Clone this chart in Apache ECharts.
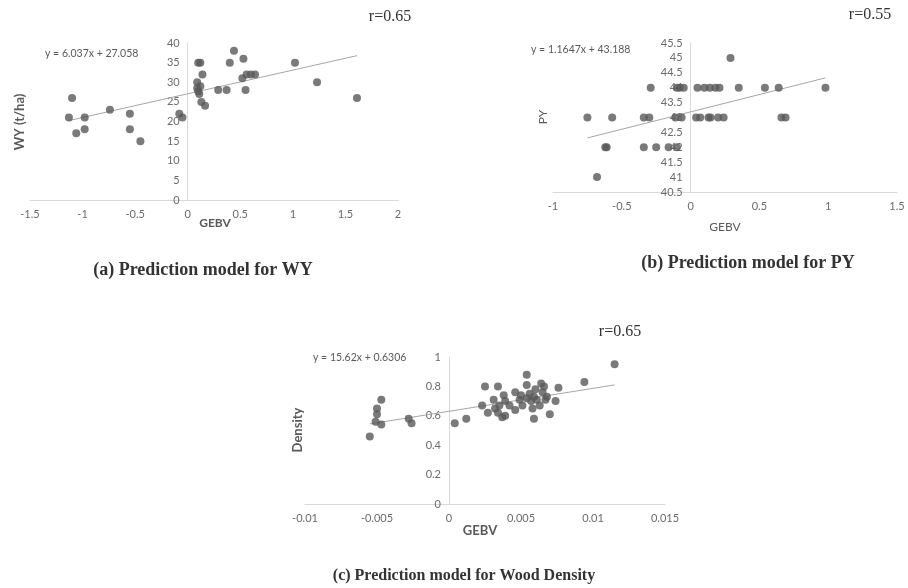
<!DOCTYPE html>
<html><head><meta charset="utf-8">
<script src="https://cdn.jsdelivr.net/npm/echarts@6/dist/echarts.min.js"></script>
<style>html,body{margin:0;padding:0;background:#fff}#c{width:908px;height:588px}</style>
</head><body><div id="c"></div>
<script>
// Panel (a) WY
const wyX = [-1.10,-1.13,-1.06,-0.98,-0.98,-0.74,-0.55,-0.55,-0.45,-0.08,-0.05,0.10,0.12,0.09,0.09,0.10,0.14,0.12,0.11,0.13,0.165,0.29,0.37,0.40,0.44,0.53,0.52,0.55,0.56,0.60,0.64,1.02,1.23,1.61];
const wyY = [26,21,17,21,18,23,22,18,15,22,21,35,35,30,28.5,27.7,32,29,27,25,24,28,28,35,38,36,31,28,32,32,32,35,30,26];
const wyFit = [6.037, 27.058];
// Panel (b) PY
const pyX = [0.29,-0.29,-0.10,-0.08,-0.05,0.05,0.10,0.14,0.18,0.21,0.35,0.54,0.64,0.98,-0.75,-0.57,-0.34,-0.30,-0.11,-0.065,0.04,0.07,0.13,0.145,0.20,0.24,0.66,0.69,-0.62,-0.61,-0.34,-0.25,-0.16,-0.10,-0.68];
const pyY = [45,44,44,44,44,44,44,44,44,44,44,44,44,44,43,43,43,43,43,43,43,43,43,43,43,43,43,43,42,42,42,42,42,42,41];
const pyFit = [1.1647, 43.188];
// Panel (c) Density
const dX = [-0.0055,-0.0051,-0.0050,-0.0050,-0.0047,-0.0047,-0.0028,-0.0026,0.0004,0.0012,0.0023,0.0025,0.0034,0.0027,0.0031,0.0032,0.0034,0.0035,0.0037,0.0038,0.0039,0.0039,0.0042,0.0046,0.0046,0.0049,0.0050,0.0051,0.0054,0.0054,0.0054,0.0056,0.0057,0.0058,0.0059,0.0059,0.0060,0.0061,0.0063,0.0064,0.0065,0.0066,0.0067,0.0068,0.0070,0.0074,0.0076,0.0094,0.0115];
const dY = [0.46,0.56,0.61,0.65,0.71,0.54,0.58,0.55,0.55,0.58,0.67,0.80,0.80,0.62,0.71,0.65,0.62,0.67,0.59,0.74,0.60,0.70,0.67,0.76,0.64,0.71,0.74,0.67,0.88,0.81,0.72,0.75,0.70,0.65,0.58,0.73,0.78,0.71,0.67,0.82,0.76,0.80,0.71,0.73,0.61,0.70,0.79,0.83,0.95];
const dFit = [15.62, 0.6306];

const eqTexts = ['y = 6.037x + 27.058', 'y = 1.1647x + 43.188', 'y = 15.62x + 0.6306'];
const rTexts = ['r=0.65', 'r=0.55', 'r=0.65'];
const captions = ['(a) Prediction model for WY', '(b) Prediction model for PY', '(c) Prediction model for Wood Density'];
const yTitles = ['WY (t/ha)', 'PY', 'Density'];
const xTitle = 'GEBV';

function pairs(xs, ys){ return xs.map((x,i)=>[x, ys[i]]); }
function fitLine(xs, fit){
  const lo = Math.min(...xs), hi = Math.max(...xs);
  return [[lo, fit[0]*lo+fit[1]], [hi, fit[0]*hi+fit[1]]];
}

const W = 908;
const grids = [
  {left:30, right:510, top:43, bottom:388},
  {left:553, right:11, top:43, bottom:396},
  {left:305, right:243, top:357, bottom:84}
];
const xr = [[-1.5,2,0.5],[-1,1.5,0.5],[-0.01,0.015,0.005]];
const yr = [[0,40,5],[40.5,45.5,0.5],[0,1,0.2]];

const lab = {color:'#6b6b6b', fontFamily:'Lato', fontSize:11};
const axLineStyle = {color:'#d9d9d9', width:1};
function xa(i){ return {type:'value', gridIndex:i, min:xr[i][0], max:xr[i][1], interval:xr[i][2], axisLine:{show:true, onZero:false, lineStyle:axLineStyle}, axisTick:{show:false}, splitLine:{show:false}, axisLabel:Object.assign({margin:9}, lab)}; }
function ya(i){
  const g = grids[i], w = W - g.left - g.right;
  const zeroPos = (0 - xr[i][0]) / (xr[i][1] - xr[i][0]) * w;
  return {type:'value', gridIndex:i, position:'left', offset:-zeroPos, min:yr[i][0], max:yr[i][1], interval:yr[i][2], axisLine:{show:true, onZero:false, lineStyle:axLineStyle}, axisTick:{show:false}, splitLine:{show:false}, axisLabel:Object.assign({margin:8}, lab)};
}

const dot = {type:'scatter', symbolSize:8, itemStyle:{color:'#595959'}, z:3};
const tl = {type:'line', symbol:'none', lineStyle:{color:'#a6a6a6', width:1}, z:2, silent:true};

function txt(x,y,text,style){ return {type:'text', left:x, top:y, style:Object.assign({text:text, fill:'#595959'}, style)}; }
function ctxt(x,y,text,font,fill,rot){ return {type:'text', x:x, y:y, rotation:rot||0, style:{text:text, font:font, fill:fill||'#595959', align:'center', verticalAlign:'middle'}}; }

const chart = echarts.init(document.getElementById('c'));
chart.setOption({
  animation:false,
  grid:grids,
  xAxis:[xa(0), xa(1), xa(2)],
  yAxis:[ya(0), ya(1), ya(2)],
  series:[
    Object.assign({xAxisIndex:0,yAxisIndex:0,data:fitLine(wyX,wyFit)}, tl),
    Object.assign({xAxisIndex:0,yAxisIndex:0,data:pairs(wyX,wyY)}, dot),
    Object.assign({xAxisIndex:1,yAxisIndex:1,data:fitLine(pyX,pyFit)}, tl),
    Object.assign({xAxisIndex:1,yAxisIndex:1,data:pairs(pyX,pyY)}, dot),
    Object.assign({xAxisIndex:2,yAxisIndex:2,data:fitLine(dX,dFit)}, tl),
    Object.assign({xAxisIndex:2,yAxisIndex:2,data:pairs(dX,dY)}, dot)
  ],
  graphic:[
    txt(45,48,eqTexts[0],{font:'10.5px Lato'}),
    txt(531,44,eqTexts[1],{font:'10.5px Lato'}),
    txt(313,352,eqTexts[2],{font:'10.5px Lato'}),
    ctxt(390,17,rTexts[0],'16px "Liberation Serif"','#333'),
    ctxt(870,15,rTexts[1],'16px "Liberation Serif"','#333'),
    ctxt(620,332,rTexts[2],'16px "Liberation Serif"','#333'),
    ctxt(20,122,yTitles[0],'bold 13px Lato','#595959',Math.PI/2),
    ctxt(543,117,yTitles[1],'12px Lato','#595959',Math.PI/2),
    ctxt(298,430,yTitles[2],'bold 13px Lato','#595959',Math.PI/2),
    ctxt(215,223,xTitle,'bold 12px Lato'),
    ctxt(725,227,xTitle,'12px Lato'),
    ctxt(480,531,xTitle,'bold 13px Lato'),
    ctxt(203,270,captions[0],'bold 18px "Liberation Serif"','#333'),
    ctxt(748,263,captions[1],'bold 18px "Liberation Serif"','#333'),
    ctxt(464,576,captions[2],'bold 16px "Liberation Serif"','#333')
  ]
});
</script></body></html>
